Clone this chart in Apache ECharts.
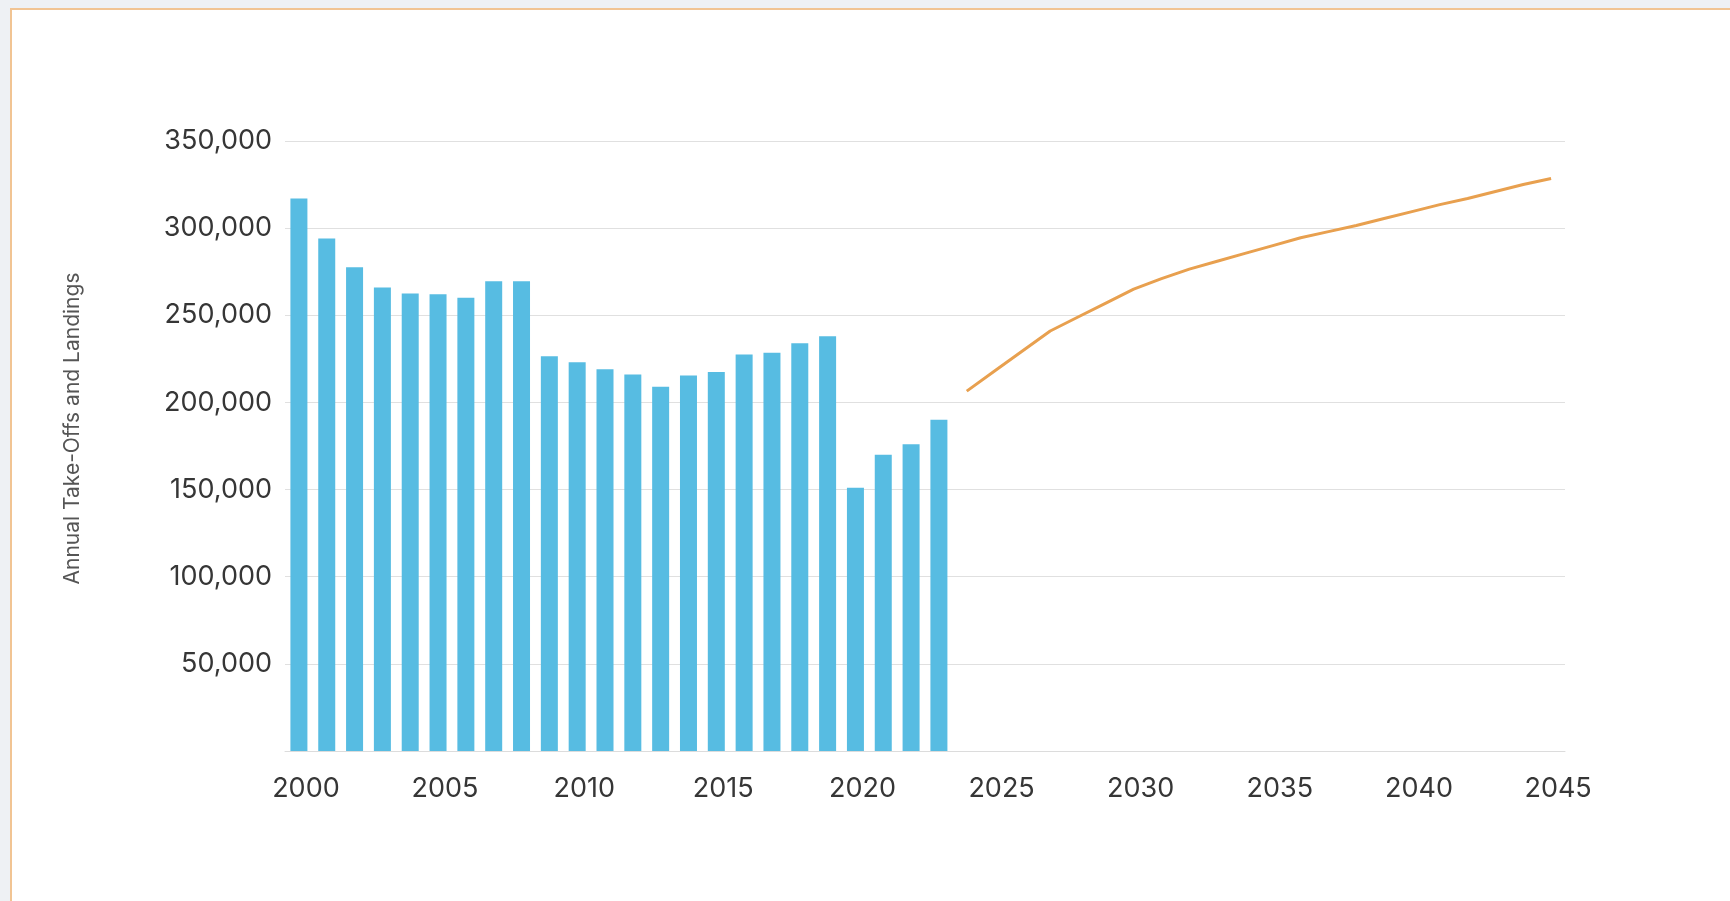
<!DOCTYPE html>
<html>
<head>
<meta charset="utf-8">
<script src="https://cdn.jsdelivr.net/npm/echarts@6/dist/echarts.min.js"></script>
<style>
  html, body { margin: 0; padding: 0; width: 1730px; height: 901px; overflow: hidden; background: #eef1f4; }
  #frame { position: absolute; left: 10px; top: 8px; width: 1740px; height: 910px; border: 2px solid #f1c493; background: #ffffff; box-sizing: border-box; }
  #chart { position: absolute; left: 0; top: 0; width: 1730px; height: 901px; }
</style>
</head>
<body>
<div id="frame"></div>
<div id="chart"></div>
<script>
// Years on the category axis (2000–2045)
const years = ["2000","2001","2002","2003","2004","2005","2006","2007","2008","2009",
  "2010","2011","2012","2013","2014","2015","2016","2017","2018","2019",
  "2020","2021","2022","2023","2024","2025","2026","2027","2028","2029",
  "2030","2031","2032","2033","2034","2035","2036","2037","2038","2039",
  "2040","2041","2042","2043","2044","2045"];

// Historical annual take-offs and landings, 2000–2023 (bars)
const historicalYears = ["2000","2001","2002","2003","2004","2005","2006","2007","2008","2009",
  "2010","2011","2012","2013","2014","2015","2016","2017","2018","2019",
  "2020","2021","2022","2023"];
const historicalValues = [317000, 294000, 277500, 266000, 262500, 262000, 260000, 269500, 269500, 226500,
  223000, 219000, 216000, 209000, 215500, 217500, 227500, 228500, 234000, 238000,
  151000, 170000, 176000, 190000];

// Forecast, 2024–2045 (line)
const forecastYears = ["2024","2025","2026","2027","2028","2029","2030","2031","2032","2033",
  "2034","2035","2036","2037","2038","2039","2040","2041","2042","2043","2044","2045"];
const forecastValues = [206500, 218000, 229500, 241000, 249000, 257000, 265000, 271000, 276500, 281000,
  285500, 290000, 294500, 298000, 301500, 305500, 309500, 313500, 317000, 321000, 325000, 328500];

// Y-axis ticks
const yTicks = [0, 50000, 100000, 150000, 200000, 250000, 300000, 350000];

const axisName = "Annual Take-Offs and Landings";

const barData = years.map(y => {
  const i = historicalYears.indexOf(y);
  return i >= 0 ? historicalValues[i] : null;
});
const lineData = years.map(y => {
  const i = forecastYears.indexOf(y);
  return i >= 0 ? forecastValues[i] : null;
});

const chart = echarts.init(document.getElementById('chart'), null, { renderer: 'canvas' });
chart.setOption({
  backgroundColor: 'transparent',
  animation: false,
  textStyle: { fontFamily: 'Inter, "Open Sans", sans-serif' },
  grid: { left: 285, right: 165, top: 141, bottom: 150, containLabel: false },
  xAxis: {
    type: 'category',
    data: years,
    boundaryGap: true,
    axisLine: { show: true, lineStyle: { color: '#dcdcdc', width: 1 } },
    axisTick: { show: false },
    axisLabel: {
      interval: 4,
      color: '#363636',
      fontSize: 27,
      margin: 24,
      padding: [0, 0, 0, 14]
    },
    splitLine: { show: false }
  },
  yAxis: {
    type: 'value',
    min: yTicks[0],
    max: yTicks[yTicks.length - 1],
    interval: yTicks[1] - yTicks[0],
    name: axisName,
    nameLocation: 'middle',
    nameRotate: 90,
    nameGap: 202,
    nameTextStyle: { color: '#555555', fontSize: 21, padding: [0, 0, 0, 35] },
    axisLine: { show: false },
    axisTick: { show: false },
    axisLabel: {
      color: '#363636',
      fontSize: 27,
      margin: 13,
      formatter: v => v === 0 ? '' : v.toLocaleString('en-US')
    },
    splitLine: { show: true, lineStyle: { color: '#e0e0e0', width: 1 } }
  },
  series: [
    {
      type: 'bar',
      data: barData,
      barWidth: 17,
      itemStyle: { color: '#57bce2' }
    },
    {
      type: 'line',
      data: lineData,
      showSymbol: false,
      symbol: 'none',
      connectNulls: false,
      lineStyle: { color: '#e8a04f', width: 3 }
    }
  ]
});
</script>
</body>
</html>
